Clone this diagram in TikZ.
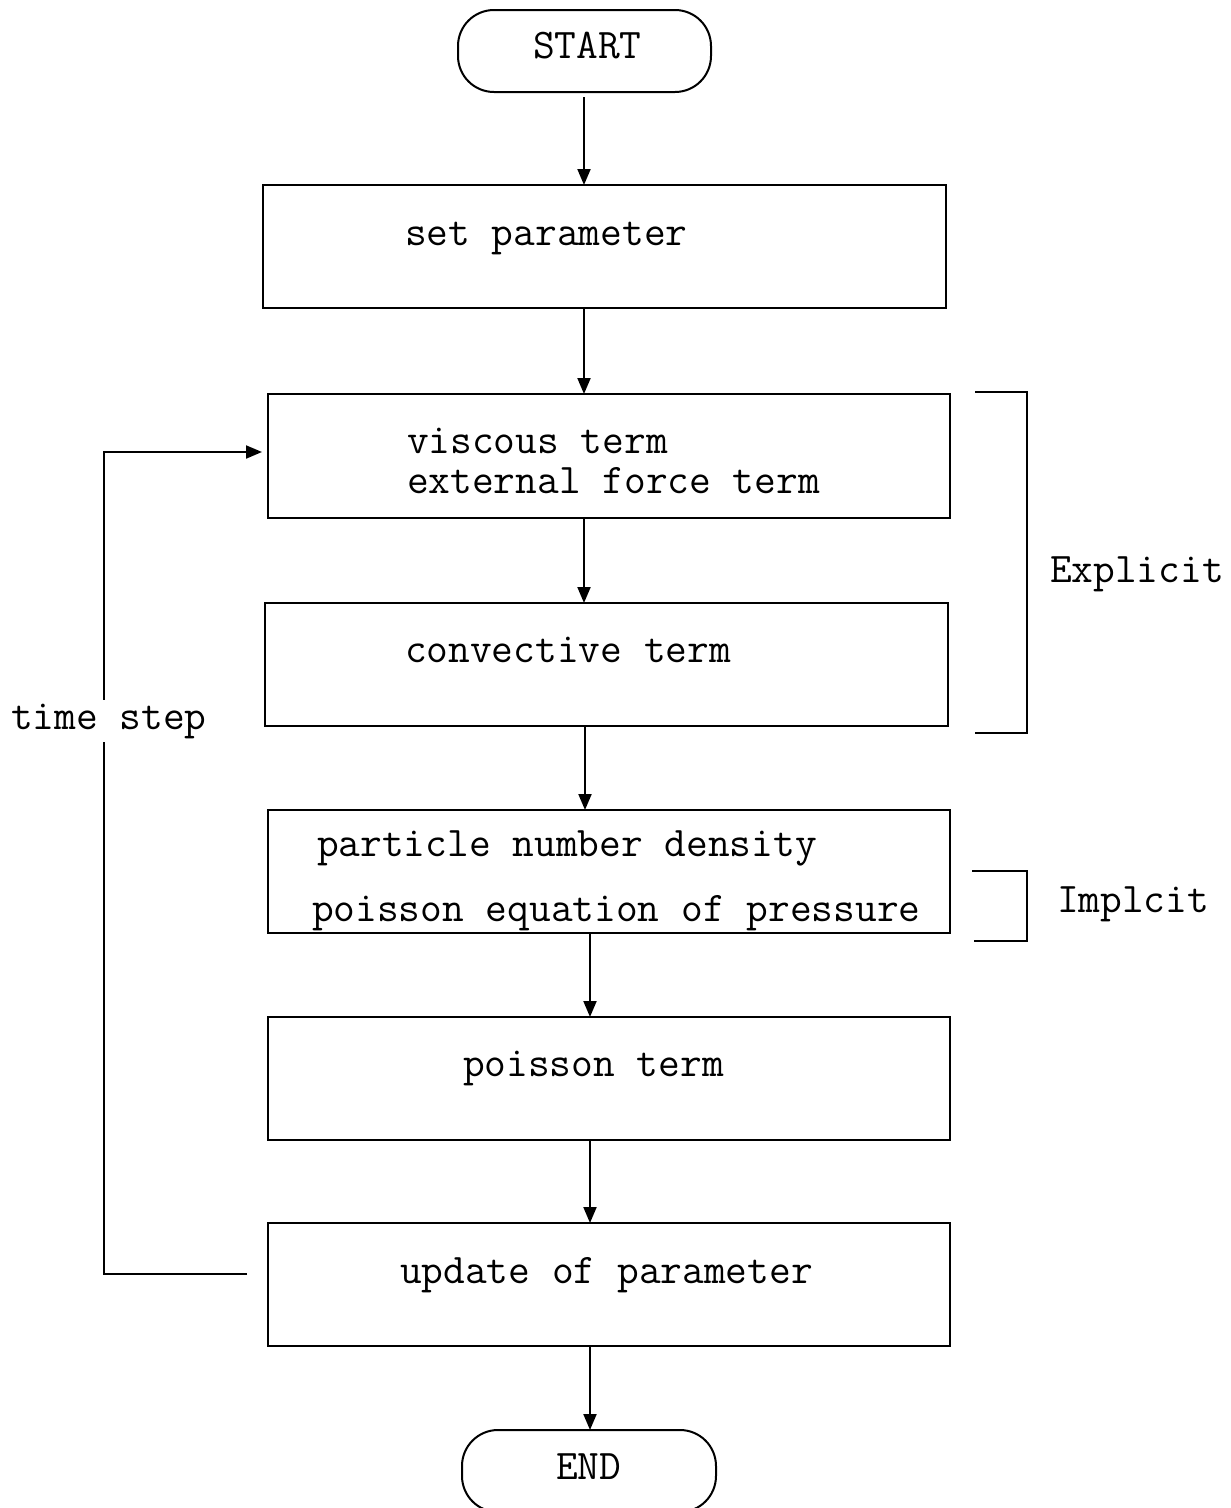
\documentclass[tikz,border=0pt]{standalone}
\usetikzlibrary{arrows.meta}
\begin{document}
\begin{tikzpicture}[x=1pt,y=-1pt,
  every node/.style={inner sep=0pt,outer sep=0pt},
  box/.style={draw,line width=2pt,rectangle},
  term/.style={draw,line width=2pt,rectangle,rounded corners=36pt,minimum width=253pt,minimum height=82pt},
  lbl/.style={anchor=base west,font=\fontsize{42.2}{46}\selectfont\ttfamily},
  arr/.style={line width=2pt,-{Triangle[length=16pt,width=13pt]}},
  ln/.style={line width=2pt}]
\useasboundingbox (0,0) rectangle (1231,1508);
% boxes
\node[term] (start) at (584.5,51) {};
\node[box,minimum width=683pt,minimum height=123pt] (set) at (604.5,246.5) {};
\node[box,minimum width=682pt,minimum height=124pt] (visc) at (609,456) {};
\node[box,minimum width=683pt,minimum height=123pt] (conv) at (606.5,664.5) {};
\node[box,minimum width=682pt,minimum height=123pt] (part) at (609,871.5) {};
\node[box,minimum width=682pt,minimum height=123pt] (pois) at (609,1078.5) {};
\node[box,minimum width=682pt,minimum height=123pt] (upd) at (609,1284.5) {};
\node[term,minimum width=254pt] (end) at (589,1471) {};
% texts
\node[lbl] (tstart) at (533,58) {START};
\node[lbl] (tset) at (405,245) {set parameter};
\node[lbl] (tv1) at (407,453) {viscous term};
\node[lbl] (tv2) at (407,493) {external force term};
\node[lbl] (tconv) at (405,662) {convective term};
\node[lbl] (tp1) at (317,856) {particle number density};
\node[lbl] (tp2) at (312,921) {poisson equation of pressure};
\node[lbl] (tpois) at (463,1076) {poisson term};
\node[lbl] (tupd) at (400,1283) {update of parameter};
\node[lbl] (tend) at (556,1479) {END};
% x positions of arrows
\coordinate (xa) at (584,0);
\coordinate (xb) at (585,0);
\coordinate (xc) at (590,0);
% arrows
\draw[arr,shorten <=5pt] (start.south -| xa) -- (set.north -| xa);
\draw[arr] (set.south -| xa) -- (visc.north -| xa);
\draw[arr] (visc.south -| xa) -- (conv.north -| xa);
\draw[arr] (conv.south -| xb) -- (part.north -| xb);
\draw[arr] (part.south -| xc) -- (pois.north -| xc);
\draw[arr] (pois.south -| xc) -- (upd.north -| xc);
\draw[arr] (upd.south -| xc) -- (end.north -| xc);
% loop
\coordinate (loopstart) at (247,1274);
\coordinate (loopcorner) at (104,452);
\coordinate (loopend) at (262,452);
\draw[arr] (loopstart) -| (loopcorner) -- (loopend);
\node[lbl,fill=white,inner ysep=4pt] (tstep) at (11,729) {time step};
% brackets
\coordinate (e1) at (975,392);
\coordinate (e2) at (975,733);
\coordinate (ex) at (1027,0);
\draw[ln] (e1) -- (e1 -| ex) -- (e2 -| ex) -- (e2);
\node[lbl] (texp) at (1050,582) {Explicit};
\coordinate (i1) at (972,871);
\coordinate (i2) at (974,941);
\draw[ln] (i1) -- (i1 -| ex) -- (i2 -| ex) -- (i2);
\node[lbl] (timp) at (1057,912) {Implcit};
\end{tikzpicture}
\end{document}
